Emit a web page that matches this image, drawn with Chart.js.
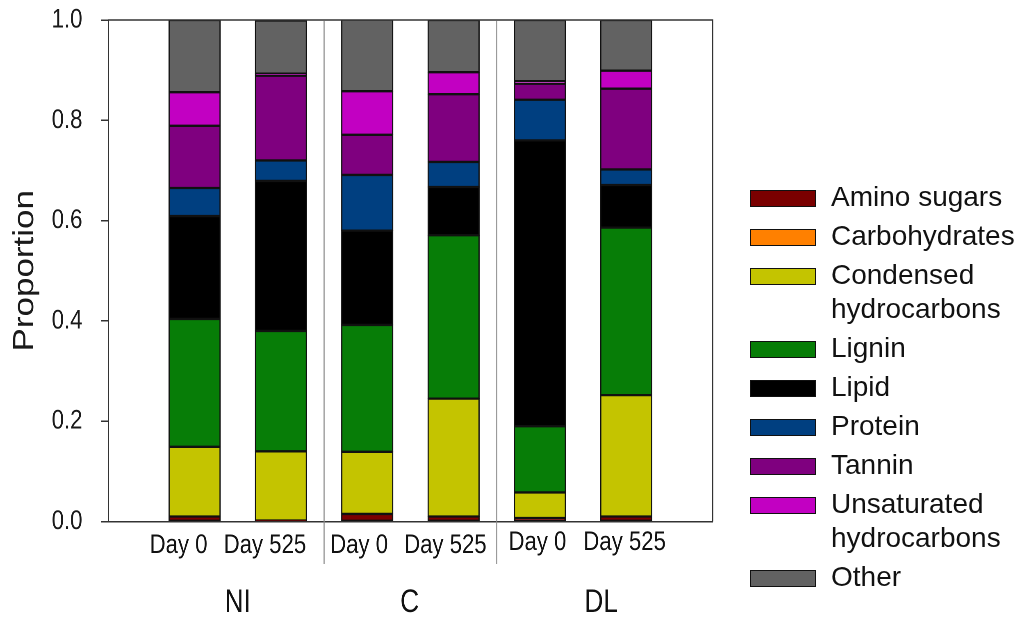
<!DOCTYPE html>
<html>
<head>
<meta charset="utf-8">
<script src="https://cdn.jsdelivr.net/npm/chart.js@4/dist/chart.umd.min.js"></script>
<style>
  html, body { margin: 0; padding: 0; background: #fff; overflow: hidden; }
  body { width: 1025px; height: 618px; position: relative; }
  #wrap {
    position: absolute; left: 0; top: 0;
    width: 1250px; height: 618px;
    transform: scaleX(0.82); transform-origin: 0 0;
  }
  #legend {
    position: absolute; left: 750px; top: 180px;
    font-family: "Liberation Sans", Arial, sans-serif;
    font-size: 28px; line-height: 34px; color: #111;
  }
  .item { display: flex; align-items: flex-start; margin-bottom: 5px; }
  .swatch {
    width: 66px; height: 17px; box-sizing: border-box;
    border: 1.5px solid #111; margin-top: 10px; margin-right: 15px; flex: none;
  }
  .label { width: 190px; }
</style>
</head>
<body>
<div id="wrap"><canvas id="chart"></canvas></div>
<div id="legend"></div>
<script>
// Samples: two sampling days per treatment
const groupNames = ['NI', 'C', 'DL'];
const dayLabels = ['Day 0', 'Day 525', 'Day 0', 'Day 525', 'Day 0', 'Day 525'];

// Proportion of each compound class, per sample (same order as dayLabels)
const aminoSugars   = [0.010, 0.002, 0.015, 0.010, 0.007, 0.010];
const carbohydrates = [0.000, 0.000, 0.000, 0.000, 0.000, 0.000];
const condensedHC   = [0.139, 0.138, 0.124, 0.235, 0.051, 0.242];
const lignin        = [0.255, 0.240, 0.253, 0.326, 0.132, 0.334];
const lipid         = [0.205, 0.299, 0.188, 0.096, 0.570, 0.085];
const protein       = [0.056, 0.041, 0.111, 0.050, 0.081, 0.031];
const tannin        = [0.124, 0.169, 0.080, 0.135, 0.032, 0.161];
const unsaturatedHC = [0.067, 0.004, 0.087, 0.044, 0.005, 0.036];
const other         = [0.144, 0.106, 0.143, 0.104, 0.122, 0.101];

const yTicks = [0, 0.2, 0.4, 0.6, 0.8, 1.0];

const series = [
  { name: 'Amino sugars',             values: aminoSugars,   color: '#7a0000' },
  { name: 'Carbohydrates',            values: carbohydrates, color: '#ff8000' },
  { name: 'Condensed hydrocarbons',   values: condensedHC,   color: '#c4c400' },
  { name: 'Lignin',                   values: lignin,        color: '#077d07' },
  { name: 'Lipid',                    values: lipid,         color: '#000000' },
  { name: 'Protein',                  values: protein,       color: '#003f80' },
  { name: 'Tannin',                   values: tannin,        color: '#7f007f' },
  { name: 'Unsaturated hydrocarbons', values: unsaturatedHC, color: '#c200c2' },
  { name: 'Other',                    values: other,         color: '#626262' }
];

// empty slot at each end of the category axis
const axisLabels = [''].concat(dayLabels, ['']);
const pad = v => [null].concat(v, [null]);

const FONT = '"Liberation Sans", Arial, sans-serif';

// Frame, treatment dividers and the two rows of x labels
const decor = {
  id: 'decor',
  afterDraw(chart, args, o) {
    const { ctx, chartArea: a } = chart;
    const x = chart.scales.x;
    ctx.save();
    ctx.strokeStyle = '#333';
    ctx.lineWidth = 1.5;
    ctx.beginPath();
    ctx.moveTo(a.left, a.top);
    ctx.lineTo(a.right, a.top);
    ctx.lineTo(a.right, a.bottom);
    ctx.stroke();

    ctx.strokeStyle = '#8a8a8a';
    ctx.lineWidth = 1.3;
    [2.5, 4.5].forEach(v => {
      const px = x.getPixelForValue(v);
      ctx.beginPath();
      ctx.moveTo(px, a.top + 1);
      ctx.lineTo(px, o.dividerBottom);
      ctx.stroke();
    });

    ctx.fillStyle = '#111';
    ctx.textAlign = 'center';
    ctx.textBaseline = 'alphabetic';
    ctx.font = '27px ' + FONT;
    dayLabels.forEach((t, i) => {
      const px = x.getPixelForValue(i + 1) + o.dayShift[i];
      ctx.fillText(t, px, o.dayBaseline[i]);
    });

    ctx.font = '32px ' + FONT;
    groupNames.forEach((t, g) => {
      const mid = (x.getPixelForValue(2 * g + 1) + x.getPixelForValue(2 * g + 2)) / 2;
      ctx.fillText(t, mid + o.groupShift[g], o.groupBaseline);
    });
    ctx.restore();
  }
};

const chart = new Chart(document.getElementById('chart'), {
  type: 'bar',
  data: {
    labels: axisLabels,
    datasets: series.map(s => ({
      label: s.name,
      data: pad(s.values),
      backgroundColor: s.color,
      borderColor: '#111',
      borderWidth: 1.5,
      borderSkipped: false,
      barThickness: 63
    }))
  },
  plugins: [decor],
  options: {
    responsive: true,
    maintainAspectRatio: false,
    animation: false,
    devicePixelRatio: 2,
    layout: { padding: { left: 0, top: 20, right: 381, bottom: 96.5 } },
    plugins: {
      legend: { display: false },
      tooltip: { enabled: false },
      decor: {
        dividerBottom: 564,
        dayShift: [-19.5, -19.5, -10, -10, -3, -2],
        dayBaseline: [553, 553, 553, 553, 550, 550],
        groupShift: [0, -1, 22],
        groupBaseline: 612
      }
    },
    scales: {
      x: {
        stacked: true,
        offset: false,
        ticks: { display: false },
        grid: { display: false },
        border: { display: true, color: '#333', width: 1.5 },
        afterFit: s => { s.height = 0; }
      },
      y: {
        stacked: true,
        min: 0,
        max: 1,
        afterBuildTicks: s => { s.ticks = yTicks.map(v => ({ value: v })); },
        ticks: {
          callback: v => Number(v).toFixed(1),
          font: { family: FONT, size: 27 },
          color: '#1a1a1a',
          padding: 23
        },
        grid: {
          drawOnChartArea: false,
          drawTicks: true,
          tickLength: 8.5,
          color: '#333',
          lineWidth: 1.5
        },
        border: { display: true, color: '#333', width: 1.5 },
        title: {
          display: true,
          text: 'Proportion',
          font: { family: FONT, size: 35 },
          color: '#1a1a1a',
          padding: { top: 10, bottom: 0 }
        },
        afterFit: s => { s.width = 132; s.paddingTop = 0; s.paddingBottom = 0; }
      }
    }
  }
});

// Legend listing the compound classes from the chart's own datasets
const legend = document.getElementById('legend');
chart.data.datasets.forEach(ds => {
  const item = document.createElement('div');
  item.className = 'item';
  const sw = document.createElement('span');
  sw.className = 'swatch';
  sw.style.background = ds.backgroundColor;
  const lb = document.createElement('span');
  lb.className = 'label';
  lb.textContent = ds.label;
  item.appendChild(sw);
  item.appendChild(lb);
  legend.appendChild(item);
});
</script>
</body>
</html>
